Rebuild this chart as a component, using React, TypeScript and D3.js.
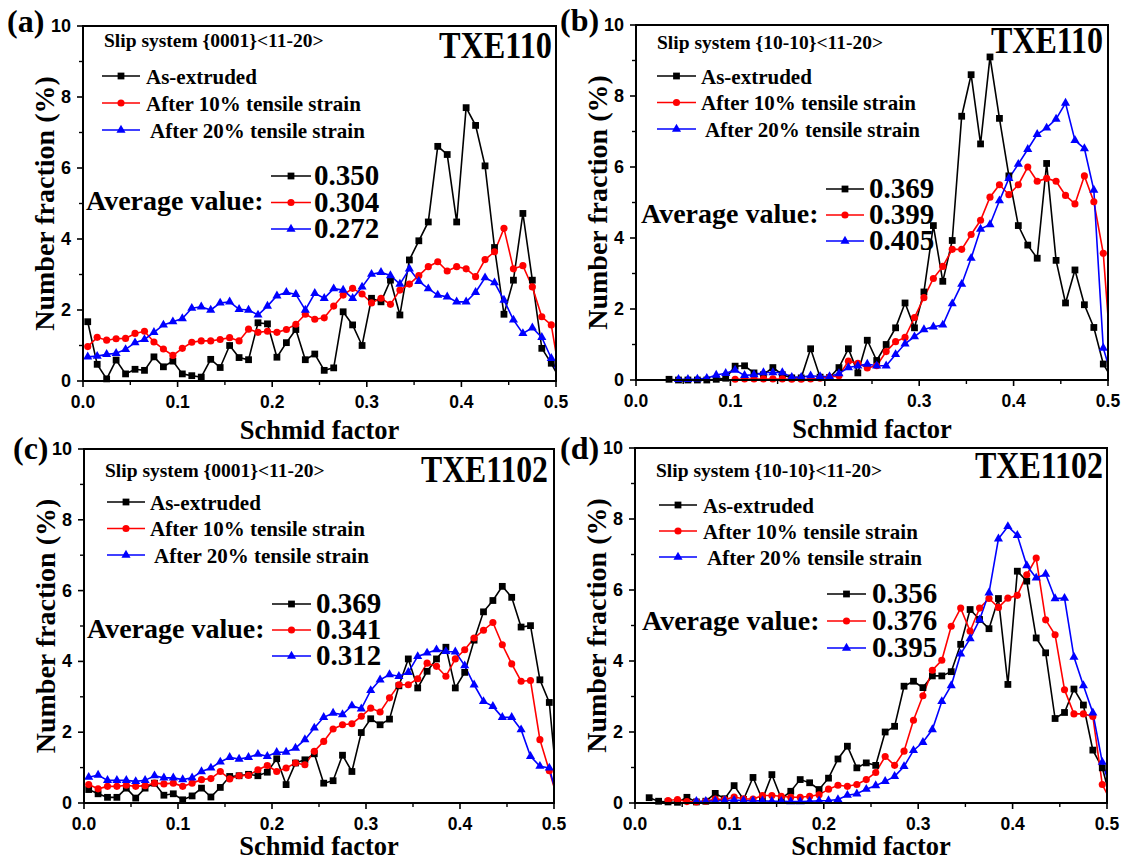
import React from 'react';
import * as d3 from 'd3';

// ---------- data ----------
const binCenters = [
  0.005, 0.015, 0.025, 0.035, 0.045, 0.055, 0.065, 0.075, 0.085, 0.095,
  0.105, 0.115, 0.125, 0.135, 0.145, 0.155, 0.165, 0.175, 0.185, 0.195,
  0.205, 0.215, 0.225, 0.235, 0.245, 0.255, 0.265, 0.275, 0.285, 0.295,
  0.305, 0.315, 0.325, 0.335, 0.345, 0.355, 0.365, 0.375, 0.385, 0.395,
  0.405, 0.415, 0.425, 0.435, 0.445, 0.455, 0.465, 0.475, 0.485, 0.495,
  0.505,
];

const aBlack = [1.67,0.47,0.06,0.59,0.2,0.33,0.3,0.68,0.4,0.56, 0.2,0.15,0.11,0.61,0.38,1.0,0.66,0.6,1.64,1.61, 0.67,1.08,1.45,0.6,0.76,0.3,0.37,1.95,1.58,1.0, 2.33,2.23,2.84,1.86,3.41,3.95,4.48,6.61,6.38,4.48, 7.7,7.2,6.06,3.76,1.88,2.84,4.72,2.84,0.92,0.5, 0];
const aRed = [0.97,1.23,1.15,1.19,1.2,1.34,1.4,1.1,0.9,0.72, 0.92,1.09,1.13,1.13,1.17,1.22,1.13,1.46,1.37,1.4, 1.37,1.45,1.6,1.88,1.74,1.78,2.11,2.42,2.61,2.45, 2.2,2.33,2.16,2.56,2.73,2.97,3.22,3.36,3.1,3.22, 3.16,2.94,3.42,3.64,4.3,3.16,3.25,2.65,1.81,1.58, 0];
const aBlue = [0.68,0.7,0.75,0.78,0.89,1.08,1.17,1.37,1.58,1.67, 1.76,2.05,2.09,2.0,2.2,2.23,2.02,2.0,1.86,2.11, 2.4,2.5,2.44,2.0,2.47,2.33,2.6,2.56,2.33,2.65, 3.01,3.06,2.97,2.73,3.16,2.81,2.6,2.42,2.37,2.23, 2.23,2.5,2.91,2.77,2.28,1.72,1.34,1.5,1.23,0.64, 0];

const bBlack = [null,null,null,0.02,0.0,0.0,0.0,0.0,0.02,0.05, 0.39,0.4,0.2,0.15,0.35,0.15,0.06,0.06,0.88,0.08, 0.07,0.35,0.88,0.2,1.12,0.55,1.0,1.47,2.17,1.47, 2.48,4.35,2.78,3.93,7.43,8.6,6.65,9.1,7.37,5.75, 4.35,3.8,3.43,6.1,3.37,2.17,3.1,2.12,1.48,0.45, 0];
const bRed = [null,null,null,null,null,null,null,null,null,null, 0.02,0.03,0.03,0.03,0.03,0.03,0.02,0.02,0.03,0.05, 0.08,0.12,0.53,0.47,0.34,0.4,0.8,1.08,1.2,1.76, 2.32,2.86,3.2,3.68,3.68,4.1,4.5,5.15,5.5,5.22, 5.5,6.0,5.6,5.68,5.6,5.2,4.96,5.75,5.02,3.57, 0];
const bBlue = [null,null,null,null,0.02,0.02,0.03,0.05,0.14,0.19, 0.28,0.13,0.15,0.21,0.21,0.21,0.08,0.08,0.12,0.1, 0.1,0.18,0.35,0.4,0.45,0.4,0.4,0.72,1.02,1.22, 1.42,1.5,1.55,2.15,2.7,3.43,4.25,4.38,5.05,5.68, 6.08,6.5,6.92,7.1,7.35,7.8,6.75,6.52,5.35,0.9, 0];

const cBlack = [0.38,0.26,0.16,0.16,0.42,0.14,0.42,0.56,0.22,0.26, 0.09,0.2,0.42,0.17,0.44,0.75,0.77,0.81,0.77,0.87, 1.25,0.52,1.13,1.22,1.39,0.56,0.63,1.35,0.89,1.99, 2.38,2.21,2.37,3.31,4.07,3.25,3.72,4.07,4.4,3.25, 3.69,4.6,5.4,5.72,6.12,5.81,4.97,5.01,3.48,2.84, 0];
const cRed = [0.52,0.4,0.47,0.47,0.5,0.47,0.49,0.56,0.54,0.56, 0.47,0.56,0.66,0.69,0.89,0.68,0.77,0.78,0.94,1.06, 0.89,0.99,1.13,1.08,1.46,1.74,2.09,2.21,2.24,2.45, 2.68,2.57,2.97,3.34,3.34,3.51,3.95,3.86,3.58,4.07, 4.33,4.66,4.88,5.1,4.47,3.93,3.44,3.46,1.79,0.91, 0];
const cBlue = [0.73,0.79,0.64,0.64,0.64,0.61,0.64,0.77,0.71,0.71, 0.66,0.71,0.89,0.99,1.16,1.29,1.24,1.29,1.38,1.32, 1.43,1.44,1.55,1.79,2.12,2.42,2.54,2.5,2.75,2.66, 3.18,3.48,3.63,3.58,3.69,4.14,4.24,4.33,4.28,4.27, 3.88,3.34,2.87,2.73,2.42,2.42,2.07,1.32,1.04,0.99, 0];

const dBlack = [null,0.15,0.05,0.03,0.02,0.16,0.03,0.05,0.27,0.12, 0.49,0.1,0.72,0.1,0.8,0.12,0.33,0.66,0.57,0.38, 0.7,1.24,1.6,0.99,1.13,1.06,2.0,2.16,3.29,3.43, 3.25,3.58,3.58,3.7,4.47,5.45,5.17,4.91,5.76,3.34, 6.53,6.25,4.65,4.23,2.38,2.55,3.21,2.76,1.49,0.99, 0];
const dRed = [null,null,null,0.07,0.1,0.04,0.03,0.05,0.11,0.1, 0.17,0.12,0.11,0.21,0.21,0.19,0.16,0.16,0.19,0.23, 0.39,0.5,0.47,0.52,0.66,0.86,1.31,1.06,1.46,2.33, 3.02,3.74,4.02,4.98,5.49,4.84,5.49,5.76,5.51,5.77, 5.85,6.43,6.9,5.16,4.74,3.19,2.51,2.51,2.44,0.52, 0];
const dBlue = [null,null,null,null,null,null,0.05,0.05,0.06,0.07, 0.08,0.07,0.06,0.06,0.05,0.05,0.04,0.04,0.05,0.06, 0.07,0.1,0.22,0.26,0.39,0.49,0.61,0.75,1.03,1.48, 1.71,2.07,2.86,3.31,4.2,4.63,5.16,5.92,7.44,7.79, 7.54,6.69,6.34,6.45,5.76,5.77,4.11,3.31,2.54,1.15, 0.3];

const xTicks = [0, 0.1, 0.2, 0.3, 0.4, 0.5];
const xTickLabels = ['0.0', '0.1', '0.2', '0.3', '0.4', '0.5'];
const xMinorTicks = [0.05, 0.15, 0.25, 0.35, 0.45];
const yTicks = [0, 2, 4, 6, 8, 10];
const yMinorTicks = [1, 3, 5, 7, 9];

const seriesNames = ['As-extruded', 'After 10% tensile strain', 'After 20% tensile strain'];
const seriesColors = ['#000000', '#ff0000', '#0000ff'];
const panelLabels = ['(a)', '(b)', '(c)', '(d)'];
const slipSystems = ['Slip system {0001}<11-20>', 'Slip system {10-10}<11-20>', 'Slip system {0001}<11-20>', 'Slip system {10-10}<11-20>'];
const sampleNames = ['TXE110', 'TXE110', 'TXE1102', 'TXE1102'];
const averageValues = [
  ['0.350', '0.304', '0.272'],
  ['0.369', '0.399', '0.405'],
  ['0.369', '0.341', '0.312'],
  ['0.356', '0.376', '0.395'],
];
const panelSeries = [
  [aBlack, aRed, aBlue],
  [bBlack, bRed, bBlue],
  [cBlack, cRed, cBlue],
  [dBlack, dRed, dBlue],
];

// ---------- layout ----------
const W = 1126;
const H = 860;
// samp: [rightOffset, baselineOffset, textLength]
const layouts = [
  { left: 83, top: 26, w: 473, h: 355, lab: [-76, 6], slip: [21, 21], samp: [-4, 32, 113], leg: [19, 57, 63, 50, 27], avg: [3, 184], val: [231, 159, 26.5], vline: [188, 228], xtitle: 58 },
  { left: 636, top: 25, w: 472, h: 355, lab: [-76, 6], slip: [21, 24], samp: [-5, 28, 112], leg: [21, 60, 65, 51, 26.5], avg: [5, 198], val: [233, 173, 26], vline: [190, 228], xtitle: 58 },
  { left: 84, top: 449, w: 470, h: 354, lab: [-71, 10], slip: [21, 28], samp: [-6, 33, 127], leg: [23, 61, 66, 53, 26.5], avg: [3, 189], val: [232, 164, 26], vline: [188, 227], xtitle: 52 },
  { left: 635, top: 448, w: 472, h: 355, lab: [-75, 11], slip: [21, 29], samp: [-4, 30, 128], leg: [24, 62, 68, 57, 26], avg: [7, 182], val: [237, 155, 27], vline: [192, 231], xtitle: 52 },
];

const SERIF = "'Liberation Serif', 'Times New Roman', serif";
const SANS = "'Liberation Sans', Arial, sans-serif";

const symbolTypes = [d3.symbolSquare, d3.symbolCircle, d3.symbolTriangle];
const symbolSizes = [46, 40, 36];

function Marker({ i, x, y }: { i: number; x: number; y: number }) {
  const p = d3.symbol().type(symbolTypes[i]).size(symbolSizes[i])() as string;
  return <path d={p} transform={`translate(${x},${y})`} fill={seriesColors[i]} />;
}

function Panel({ idx }: { idx: number }) {
  const L = layouts[idx];
  const x = d3.scaleLinear().domain([0, 0.5]).range([L.left, L.left + L.w]);
  const y = d3.scaleLinear().domain([0, 10]).range([L.top + L.h, L.top]);
  const right = L.left + L.w;
  const bottom = L.top + L.h;
  const clipId = `clip-${idx}`;
  const line = d3
    .line<number | null>()
    .defined((d) => d !== null)
    .x((_, i) => x(binCenters[i]))
    .y((d) => y(d as number));
  const series = panelSeries[idx];
  return (
    <g>
      <defs>
        <clipPath id={clipId}>
          <rect x={L.left} y={L.top} width={L.w} height={L.h} />
        </clipPath>
      </defs>
      <g clipPath={`url(#${clipId})`}>
        {series.map((s, si) => (
          <path key={si} d={line(s as (number | null)[]) || ''} fill="none" stroke={seriesColors[si]} strokeWidth={1.6} />
        ))}
      </g>
      {series.map((s, si) => (
        <g key={si}>
          {(s as (number | null)[]).map((v, i) =>
            v === null || binCenters[i] > 0.5 ? null : <Marker key={i} i={si} x={x(binCenters[i])} y={y(v)} />
          )}
        </g>
      ))}
      <rect x={L.left} y={L.top} width={L.w} height={L.h} fill="none" stroke="#000" strokeWidth={2} />
      {xTicks.map((t, i) => (
        <g key={`xt${i}`}>
          <line x1={x(t)} x2={x(t)} y1={bottom} y2={bottom + 6} stroke="#000" strokeWidth={1.6} />
          <text x={x(t)} y={bottom + 27} textAnchor="middle" fontFamily={SANS} fontWeight="bold" fontSize={17.5}>
            {xTickLabels[i]}
          </text>
        </g>
      ))}
      {xMinorTicks.map((t, i) => (
        <line key={`xm${i}`} x1={x(t)} x2={x(t)} y1={bottom} y2={bottom + 4} stroke="#000" strokeWidth={1.4} />
      ))}
      {yTicks.map((t, i) => (
        <g key={`yt${i}`}>
          <line x1={L.left - 6} x2={L.left} y1={y(t)} y2={y(t)} stroke="#000" strokeWidth={1.6} />
          <text x={L.left - 12} y={y(t) + 6} textAnchor="end" fontFamily={SANS} fontWeight="bold" fontSize={18}>
            {t}
          </text>
        </g>
      ))}
      {yMinorTicks.map((t, i) => (
        <line key={`ym${i}`} x1={L.left - 4} x2={L.left} y1={y(t)} y2={y(t)} stroke="#000" strokeWidth={1.4} />
      ))}
      <text
        transform={`translate(${L.left - 29},${(L.top + bottom) / 2}) rotate(-90)`}
        textAnchor="middle"
        fontFamily={SERIF}
        fontWeight="bold"
        fontSize={28}
      >
        Number fraction (%)
      </text>
      <text x={(L.left + right) / 2} y={bottom + L.xtitle} textAnchor="middle" fontFamily={SERIF} fontWeight="bold" fontSize={26.5}>
        Schmid factor
      </text>
      <text x={L.left + L.lab[0]} y={L.top + L.lab[1]} fontFamily={SERIF} fontWeight="bold" fontSize={32}>
        {panelLabels[idx]}
      </text>
      <text x={L.left + L.slip[0]} y={L.top + L.slip[1]} fontFamily={SERIF} fontWeight="bold" fontSize={19.5}>
        {slipSystems[idx]}
      </text>
      <text
        x={right + L.samp[0] - L.samp[2]}
        y={L.top + L.samp[1]}
        textLength={L.samp[2]}
        lengthAdjust="spacingAndGlyphs"
        fontFamily={SERIF}
        fontWeight="bold"
        fontSize={38}
      >
        {sampleNames[idx]}
      </text>
      {seriesNames.map((n, i) => {
        const ly = L.top + L.leg[3] + i * L.leg[4];
        const x0 = L.left + L.leg[0];
        const x1 = L.left + L.leg[1];
        return (
          <g key={`lg${i}`}>
            <line x1={x0} x2={x1} y1={ly} y2={ly} stroke={seriesColors[i]} strokeWidth={1.6} />
            <Marker i={i} x={(x0 + x1) / 2} y={ly} />
            <text x={L.left + L.leg[2] + (i === 2 ? 4 : 0)} y={ly + 7.5} fontFamily={SERIF} fontWeight="bold" fontSize={21}>
              {n}
            </text>
          </g>
        );
      })}
      <text x={L.left + L.avg[0]} y={L.top + L.avg[1]} fontFamily={SERIF} fontWeight="bold" fontSize={28}>
        Average value:
      </text>
      {averageValues[idx].map((v, i) => {
        const by = L.top + L.val[1] + i * L.val[2];
        const ly = by - 9;
        const x0 = L.left + L.vline[0];
        const x1 = L.left + L.vline[1];
        return (
          <g key={`av${i}`}>
            <line x1={x0} x2={x1} y1={ly} y2={ly} stroke={seriesColors[i]} strokeWidth={1.6} />
            <Marker i={i} x={(x0 + x1) / 2} y={ly} />
            <text x={L.left + L.val[0]} y={by} fontFamily={SERIF} fontWeight="bold" fontSize={29}>
              {v}
            </text>
          </g>
        );
      })}
    </g>
  );
}

export default function App() {
  return (
    <svg
      width={W}
      height={H}
      viewBox={`0 0 ${W} ${H}`}
      style={{ position: 'absolute', left: 0, top: 0, background: '#fff', display: 'block' }}
    >
      <rect x={0} y={0} width={W} height={H} fill="#fff" />
      {[0, 1, 2, 3].map((i) => (
        <Panel key={i} idx={i} />
      ))}
    </svg>
  );
}
